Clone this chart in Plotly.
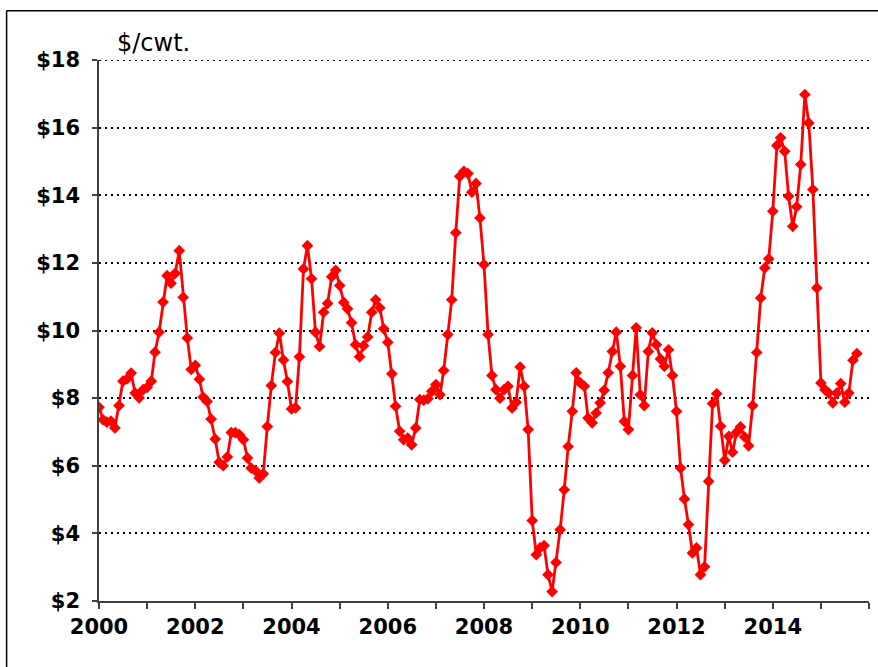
import pandas as pd
import plotly.graph_objects as go

# Monthly values, $/cwt., Jan 2000 - Oct 2015
V2000 = [7.73, 7.36, 7.29, 7.32, 7.12, 7.78, 8.50, 8.57, 8.74, 8.15, 8.01, 8.25]
V2001 = [8.32, 8.50, 9.36, 9.95, 10.84, 11.62, 11.40, 11.69, 12.36, 10.98, 9.78, 8.85]
V2002 = [8.97, 8.56, 8.03, 7.90, 7.38, 6.79, 6.10, 6.00, 6.26, 6.98, 6.98, 6.92]
V2003 = [6.77, 6.23, 5.93, 5.86, 5.64, 5.76, 7.16, 8.37, 9.35, 9.92, 9.13, 8.49]
V2004 = [7.68, 7.71, 9.22, 11.82, 12.51, 11.53, 9.95, 9.53, 10.54, 10.80, 11.59, 11.78]
V2005 = [11.33, 10.83, 10.64, 10.23, 9.58, 9.22, 9.55, 9.81, 10.54, 10.91, 10.67, 10.05]
V2006 = [9.65, 8.72, 7.76, 7.02, 6.77, 6.82, 6.62, 7.12, 7.96, 7.94, 7.98, 8.20]
V2007 = [8.40, 8.10, 8.82, 9.88, 10.91, 12.89, 14.56, 14.71, 14.64, 14.09, 14.35, 13.33]
V2008 = [11.95, 9.88, 8.67, 8.25, 8.00, 8.25, 8.35, 7.71, 7.88, 8.92, 8.35, 7.07]
V2009 = [4.38, 3.37, 3.57, 3.64, 2.78, 2.28, 3.14, 4.11, 5.29, 6.57, 7.61, 8.75]
V2010 = [8.45, 8.35, 7.41, 7.27, 7.56, 7.86, 8.23, 8.75, 9.38, 9.95, 8.94, 7.31]
V2011 = [7.07, 8.67, 10.08, 8.10, 7.78, 9.38, 9.93, 9.58, 9.16, 8.94, 9.43, 8.67]
V2012 = [7.61, 5.93, 5.02, 4.26, 3.42, 3.57, 2.78, 3.01, 5.54, 7.84, 8.13, 7.17]
V2013 = [6.16, 6.87, 6.40, 6.99, 7.15, 6.85, 6.59, 7.78, 9.35, 10.96, 11.85, 12.12]
V2014 = [13.53, 15.47, 15.70, 15.30, 13.97, 13.08, 13.66, 14.91, 16.98, 16.14, 14.17, 11.26]
V2015 = [8.45, 8.25, 8.15, 7.86, 8.15, 8.43, 7.88, 8.15, 9.12, 9.32]

values = (V2000 + V2001 + V2002 + V2003 + V2004 + V2005 + V2006 + V2007
          + V2008 + V2009 + V2010 + V2011 + V2012 + V2013 + V2014 + V2015)
dates = pd.date_range("2000-01-01", periods=len(values), freq="MS")

Y_TICKS = [2, 4, 6, 8, 10, 12, 14, 16, 18]
Y_LABELS = ["$" + str(v) for v in Y_TICKS]
Y_MAX = Y_TICKS[-1]

fig = go.Figure()
fig.add_trace(go.Scatter(
    x=dates, y=values,
    mode="lines+markers",
    line=dict(color="#FF0000", width=2.8),
    marker=dict(symbol="diamond", size=9, color="#FF0000"),
    showlegend=False,
))

axis_font = dict(family="DejaVu Sans", size=21, color="black", weight="bold")

fig.update_layout(
    width=878, height=667,
    paper_bgcolor="white", plot_bgcolor="white",
    margin=dict(l=99, r=9, t=60, b=66),
    xaxis=dict(
        range=["2000-01-01", "2016-01-01"],
        dtick="M24", tick0="2000-01-01", tickformat="%Y",
        ticks="outside", ticklen=6, tickwidth=1.5, tickcolor="#404040",
        minor=dict(dtick="M12", ticks="outside", ticklen=6, tickwidth=1.5, tickcolor="#404040", showgrid=False),
        showline=True, linecolor="#404040", linewidth=1.5,
        showgrid=False, zeroline=False,
        tickfont=axis_font,
    ),
    yaxis=dict(
        range=[Y_TICKS[0], Y_MAX],
        tickvals=Y_TICKS, ticktext=Y_LABELS,
        ticks="outside", ticklen=5, tickwidth=1.5, tickcolor="#404040",
        ticklabelstandoff=8,
        showline=True, linecolor="#404040", linewidth=1.5,
        showgrid=True, gridcolor="black", gridwidth=2, griddash="2px,4px",
        zeroline=False,
        tickfont=axis_font,
    ),
    annotations=[dict(
        text="$/cwt.", xref="paper", yref="paper",
        x=0.021, y=1, xanchor="left", yanchor="bottom", yshift=1,
        showarrow=False,
        font=dict(family="DejaVu Sans", size=24, color="black"),
    )],
    shapes=[
        # top gridline sits on the plot edge, plotly skips it
        dict(type="line", xref="paper", yref="y", x0=0, x1=1, y0=Y_MAX, y1=Y_MAX,
             line=dict(color="black", width=2, dash="2px,4px")),
        # chart frame (top and left edges visible in the crop)
        dict(type="line", xref="paper", yref="paper", x0=-0.12, x1=1.2, y0=1.091, y1=1.091,
             line=dict(color="black", width=1.5)),
        dict(type="line", xref="paper", yref="paper", x0=-0.12, x1=-0.12, y0=-0.2, y1=1.091,
             line=dict(color="black", width=1.5)),
    ],
)

# drop the browser's default page margin so the figure sits at the window corner
fig.write_html("out.html", config={"displayModeBar": False},
               post_script="document.body.style.margin='0';")
